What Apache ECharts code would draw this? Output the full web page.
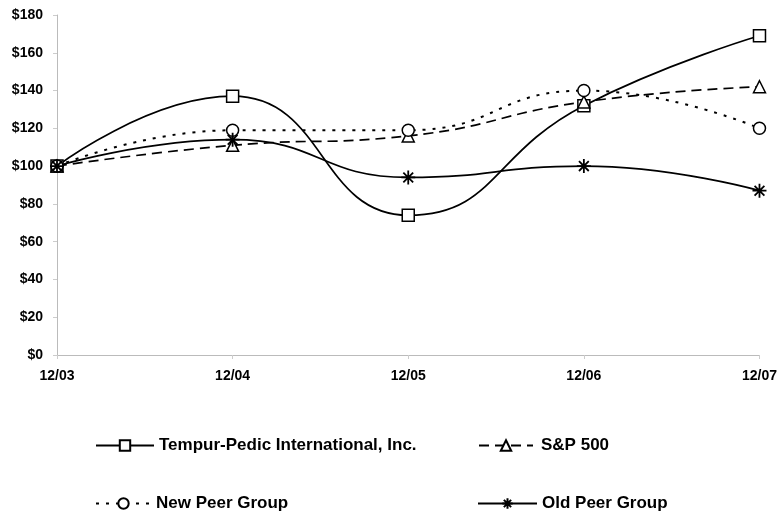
<!DOCTYPE html>
<html><head><meta charset="utf-8">
<script src="https://cdn.jsdelivr.net/npm/echarts@6/dist/echarts.min.js"></script>
<style>html,body{margin:0;padding:0;background:#fff}#c{width:780px;height:517px}</style>
</head><body><div id="c"></div>
<script>
const categories = ['12/03','12/04','12/05','12/06','12/07'];
const tempur = [100, 137, 74, 132, 169];
const sp500 = [100, 111, 116, 134, 142];
const newPeer = [100, 119, 119, 140, 120];
const oldPeer = [100, 114, 94, 100, 87];
const yTicks = {min: 0, max: 180, interval: 20};

const F = '"Liberation Sans", Arial, sans-serif';
const star = 'path://M0,5 L10,5 M5,0 L5,10 M1.5,1.5 L8.5,8.5 M8.5,1.5 L1.5,8.5';
function ser(name, data, symbol, size, lineType, w) {
  return {
    name, type: 'line', data, smooth: 0.5, symbol, symbolSize: size,
    lineStyle: {color: '#000', width: w || 1.7, type: lineType},
    itemStyle: {color: symbol === star ? '#000' : '#fff', borderColor: '#000', borderWidth: symbol === star ? 1.8 : 1.5},
    emphasis: {disabled: true}
  };
}
const legendBase = {
  orient: 'horizontal', itemHeight: 13, itemGap: 6,
  textStyle: {fontFamily: F, fontWeight: 'bold', fontSize: 17, color: '#000'},
  selectedMode: false, padding: 0
};
const chart = echarts.init(document.getElementById('c'));
chart.setOption({
  animation: false,
  grid: {left: 57, right: 19, top: 15, bottom: 162},
  xAxis: {
    type: 'category', data: categories, boundaryGap: false,
    axisLine: {lineStyle: {color: '#bbb'}},
    axisTick: {show: true, alignWithLabel: true, lineStyle: {color: '#ccc'}, length: 4},
    axisLabel: {fontFamily: F, fontWeight: 'bold', fontSize: 14, color: '#000', margin: 14,
      showMinLabel: true, showMaxLabel: true}
  },
  yAxis: {
    type: 'value', min: yTicks.min, max: yTicks.max, interval: yTicks.interval,
    axisLine: {show: true, lineStyle: {color: '#bbb'}},
    axisTick: {show: true, lineStyle: {color: '#ccc'}, length: 4},
    splitLine: {show: false},
    axisLabel: {fontFamily: F, fontWeight: 'bold', fontSize: 14, color: '#000', margin: 14,
      formatter: v => '$' + v}
  },
  legend: [
    Object.assign({}, legendBase, {left: 95, top: 437, itemWidth: 58, data: ['Tempur-Pedic International, Inc.']}),
    Object.assign({}, legendBase, {left: 478, top: 437, itemWidth: 54,
      textStyle: Object.assign({}, legendBase.textStyle, {padding: [0, 0, 0, 3]}), data: ['S&P 500']}),
    Object.assign({}, legendBase, {left: 95, top: 495, itemWidth: 55, data: ['New Peer Group']}),
    Object.assign({}, legendBase, {left: 477, top: 495, itemWidth: 59, data: ['Old Peer Group']})
  ],
  series: [
    ser('Tempur-Pedic International, Inc.', tempur, 'rect', 12, 'solid'),
    ser('S&P 500', sp500, 'triangle', 12, [10, 6]),
    ser('New Peer Group', newPeer, 'circle', 12, [3, 7], 2),
    ser('Old Peer Group', oldPeer, star, 14, 'solid')
  ]
});
</script></body></html>
